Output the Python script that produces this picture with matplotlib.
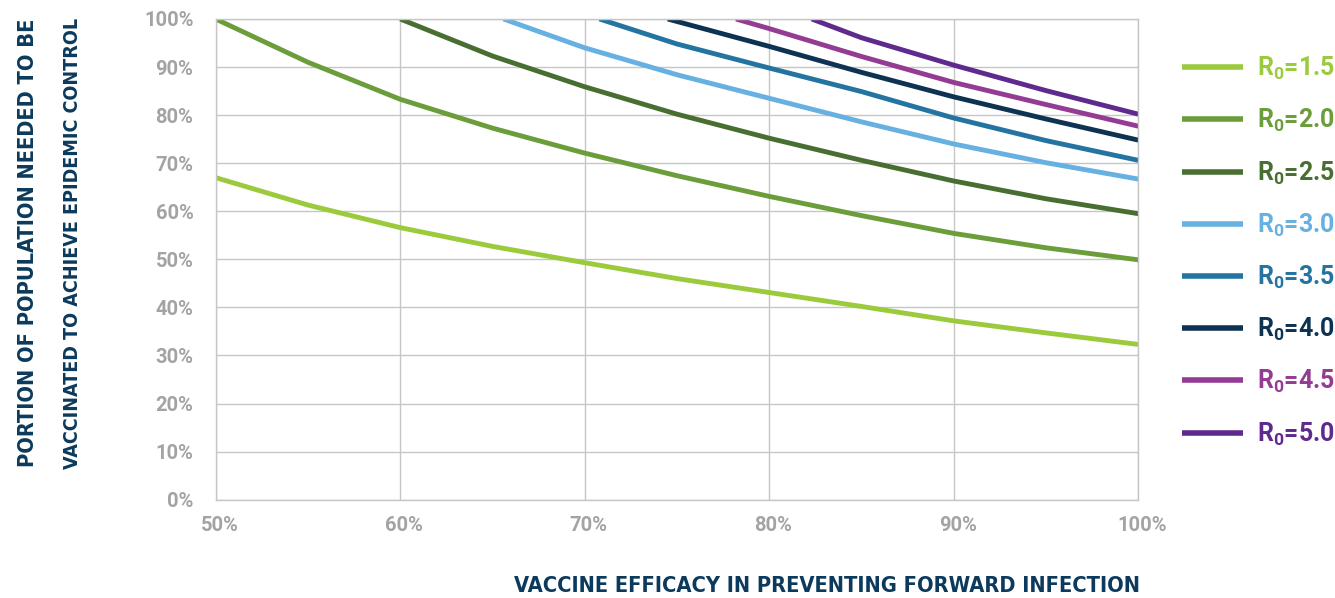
import numpy as np
import matplotlib
matplotlib.use("Agg")
import matplotlib.pyplot as plt
import matplotlib.font_manager as fm
from matplotlib.transforms import ScaledTranslation

# ---------------------------------------------------------------
# data (x = vaccine efficacy %, y = coverage %)
# ---------------------------------------------------------------
r0_labels = ["1.5", "2.0", "2.5", "3.0", "3.5", "4.0", "4.5", "5.0"]

eff_15 = [50, 55, 60, 65, 70, 75, 80, 85, 90, 95, 100]
cov_15 = [67.0, 61.3, 56.6, 52.7, 49.3, 46.0, 43.1, 40.2, 37.2, 34.7, 32.3]

eff_20 = [50, 55, 60, 65, 70, 75, 80, 85, 90, 95, 100]
cov_20 = [100.0, 91.0, 83.3, 77.3, 72.1, 67.4, 63.1, 59.1, 55.4, 52.4, 49.9]

eff_25 = [60, 65, 70, 75, 80, 85, 90, 95, 100]
cov_25 = [100.0, 92.3, 85.9, 80.2, 75.2, 70.6, 66.3, 62.6, 59.5]

eff_30 = [65.6, 70, 75, 80, 85, 90, 95, 100]
cov_30 = [100.0, 94.0, 88.4, 83.5, 78.6, 74.0, 70.1, 66.7]

eff_35 = [70.8, 75, 80, 85, 90, 95, 100]
cov_35 = [100.0, 94.8, 89.8, 84.9, 79.4, 74.7, 70.6]

eff_40 = [74.5, 80, 85, 90, 95, 100]
cov_40 = [100.0, 94.3, 88.9, 83.8, 79.2, 74.8]

eff_45 = [78.2, 80, 85, 90, 95, 100]
cov_45 = [100.0, 98.0, 92.2, 86.8, 82.2, 77.7]

eff_50 = [82.3, 85, 90, 95, 100]
cov_50 = [100.0, 96.1, 90.4, 85.1, 80.2]

x_ticks = [50, 60, 70, 80, 90, 100]
y_ticks = [0, 10, 20, 30, 40, 50, 60, 70, 80, 90, 100]

colors = ["#9bcb3c", "#6c9d3b", "#496e31", "#66b0e2",
          "#2474a2", "#0e3352", "#943b94", "#5f2a8e"]

series = [(eff_15, cov_15), (eff_20, cov_20), (eff_25, cov_25), (eff_30, cov_30),
          (eff_35, cov_35), (eff_40, cov_40), (eff_45, cov_45), (eff_50, cov_50)]

# ---------------------------------------------------------------
# fonts
# ---------------------------------------------------------------
names = {f.name for f in fm.fontManager.ttflist}
if "Liberation Sans Narrow" in names:
    cond_font = dict(family="Liberation Sans Narrow")
else:
    cond_font = dict(family="DejaVu Sans", stretch="condensed")

plt.rcParams["font.family"] = ["Roboto", "DejaVu Sans"]
plt.rcParams["mathtext.fontset"] = "custom"
plt.rcParams["mathtext.rm"] = "Roboto:bold"
plt.rcParams["mathtext.it"] = "Roboto:bold"
plt.rcParams["mathtext.bf"] = "Roboto:bold"

navy = "#0b3a5c"
tick_gray = "#a3a3a3"
grid_gray = "#c6c6c6"

W, H = 1335, 598
fig = plt.figure(figsize=(W / 100, H / 100), dpi=100)
ax = fig.add_axes([215.7 / W, 1 - 499.7 / H, (1138.3 - 215.7) / W, (499.7 - 19) / H])

for (xs, ys), c, lab in zip(series, colors, r0_labels):
    ax.plot(xs, ys, color=c, lw=3.5, solid_capstyle="butt", label="R$_0$=" + lab)

ax.set_xlim(50, 100)
ax.set_ylim(0, 100)
ax.set_xticks(x_ticks)
ax.set_yticks(y_ticks)
ax.set_xticklabels([f"{v}%" for v in x_ticks])
ax.set_yticklabels([f"{v}%" for v in y_ticks])
ax.tick_params(length=0, colors=tick_gray, labelsize=14.5)
ax.tick_params(axis="y", pad=16)
ax.tick_params(axis="x", pad=12)
shift = ScaledTranslation(4 / 100, 0, fig.dpi_scale_trans)
for lbl in ax.get_xticklabels():
    lbl.set_transform(lbl.get_transform() + shift)
for lbl in ax.get_xticklabels() + ax.get_yticklabels():
    lbl.set_fontweight("bold")
ax.grid(True, color=grid_gray, lw=1.0)
ax.set_axisbelow(True)
for s in ax.spines.values():
    s.set_color(grid_gray)
    s.set_linewidth(1.0)

leg = ax.legend(loc="upper left", bbox_to_anchor=(1182 / W, 1 - 55 / H),
                bbox_transform=fig.transFigure, frameon=False,
                handlelength=2.45, handletextpad=0.55, labelspacing=1.0,
                borderpad=0, borderaxespad=0, labelcolor="linecolor",
                prop={"weight": "bold", "size": 18})
for ln in leg.get_lines():
    ln.set_linewidth(4.0)

# axis titles in a condensed heavy face, sized to the reference extents
xt = fig.text(1140 / W, 1 - 596 / H, "VACCINE EFFICACY IN PREVENTING FORWARD INFECTION",
              ha="right", va="bottom", color=navy, fontweight="bold", fontsize=20, **cond_font)
yt1 = fig.text(28.5 / W, 1 - 243 / H, "PORTION OF POPULATION NEEDED TO BE",
               ha="center", va="center", rotation=90, color=navy, fontweight="bold",
               fontsize=20, **cond_font)
yt2 = fig.text(72.5 / W, 1 - 243 / H, "VACCINATED TO ACHIEVE EPIDEMIC CONTROL",
               ha="center", va="center", rotation=90, color=navy, fontweight="bold",
               fontsize=20, **cond_font)

renderer = fig.canvas.get_renderer()
bb = xt.get_window_extent(renderer)
xt.set_fontsize(20 * 628 / bb.width)
for t in (yt1, yt2):
    bb = t.get_window_extent(renderer)
    t.set_fontsize(20 * 450 / bb.height)

fig.savefig("out.png", dpi=100)
